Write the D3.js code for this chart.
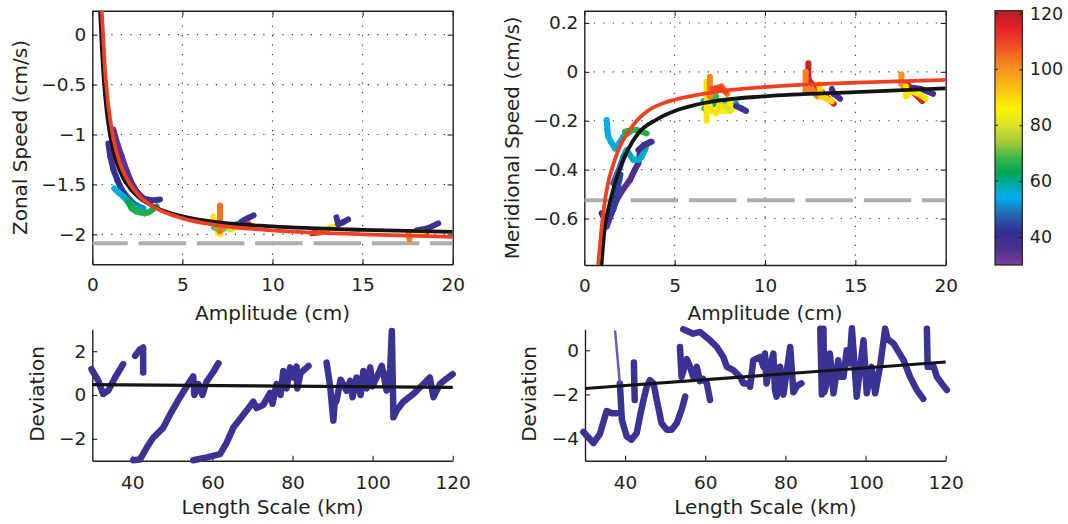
<!DOCTYPE html>
<html>
<head>
<meta charset="utf-8">
<script src="https://cdn.jsdelivr.net/npm/d3@7"></script>
<style>
body { margin: 0; background: #fff; }
svg text { font-family: "DejaVu Sans", sans-serif; fill: #231f20; }
</style>
</head>
<body>
<div class="container"></div>
<script>
// ---- data ----
const ampTicks = [0, 5, 10, 15, 20]
const zonalTicks = [0, -0.5, -1, -1.5, -2]
const meridTicks = [0.2, 0, -0.2, -0.4, -0.6]
const lenTicks = [40, 60, 80, 100, 120]
const devTicksL = [2, 0, -2]
const devTicksR = [0, -2, -4]
const cbarTicks = [40, 60, 80, 100, 120]

const zonalDashed = -2.09
const meridDashed = -0.525

// fitted curves [amplitude, speed]
const zonalBlack = [[0.43,0.24],[0.48,0.06],[0.55,-0.2],[0.65,-0.48],[0.8,-0.77],[1.0,-1.02],[1.3,-1.25],[1.72,-1.44],[2.2,-1.56],[2.65,-1.64],[3.5,-1.73],[5,-1.82],[7,-1.88],[10,-1.92],[15,-1.955],[20,-1.975]]
const zonalRed = [[0.52,0.24],[0.6,0.0],[0.7,-0.34],[0.8,-0.55],[1.0,-0.86],[1.17,-1.04],[1.5,-1.27],[1.87,-1.43],[2.3,-1.55],[2.74,-1.64],[3.5,-1.735],[5,-1.84],[7,-1.91],[10,-1.96],[15,-2.0],[20,-2.025]]
const meridBlack = [[0.95,-0.79],[1.1,-0.66],[1.45,-0.525],[1.95,-0.4],[2.4,-0.32],[3.0,-0.25],[4.0,-0.195],[5,-0.16],[6,-0.138],[7.5,-0.117],[10,-0.1],[15,-0.083],[20,-0.068]]
const meridRed = [[0.77,-0.79],[0.9,-0.68],[1.1,-0.55],[1.3,-0.46],[1.6,-0.38],[2.0,-0.3],[2.4,-0.25],[2.9,-0.2],[3.5,-0.16],[4.5,-0.125],[5.5,-0.105],[7,-0.085],[10,-0.062],[15,-0.044],[20,-0.033]]

// eddy tracks [amplitude, speed, length scale]
const zonalTracks = [
  [[1.2,-1.0,33],[1.5,-1.2,33],[1.8,-1.4,34],[2.2,-1.55,35]],
  [[1.17,-0.95,34],[1.4,-1.1,34],[1.63,-1.22,34],[1.9,-1.36,34],[2.19,-1.49,35],[2.5,-1.58,35],[2.83,-1.64,36],[3.3,-1.66,37],[3.76,-1.65,38]],
  [[0.89,-1.09,38],[1.0,-1.22,39],[1.17,-1.35,40],[1.4,-1.46,41],[1.63,-1.55,43],[1.95,-1.63,45],[2.28,-1.69,47],[2.55,-1.72,49],[2.83,-1.74,50]],
  [[1.22,-1.54,54],[1.45,-1.58,55],[1.72,-1.62,56],[2.0,-1.67,57],[2.28,-1.72,55],[2.55,-1.74,53],[2.83,-1.74,51]],
  [[1.9,-1.66,59],[2.2,-1.71,60],[2.5,-1.74,60]],
  [[2.0,-1.68,62],[2.19,-1.74,64],[2.42,-1.77,66],[2.65,-1.78,66],[2.9,-1.79,66],[3.1,-1.78,66],[3.35,-1.75,65],[3.57,-1.72,64]],
  [[6.72,-1.82,88],[6.8,-1.9,88],[7.0,-1.98,88],[7.1,-2.0,88]],
  [[6.75,-1.93,70],[7.0,-1.95,70],[7.2,-1.95,72],[7.5,-1.93,70]],
  [[7.09,-1.71,104],[7.09,-1.97,104]],
  [[7.5,-1.92,60],[7.8,-1.91,60],[8.0,-1.9,60],[8.3,-1.88,60]],
  [[7.6,-1.95,80],[7.9,-1.94,80]],
  [[8.55,-1.91,115],[8.7,-1.9,115]],
  [[8.3,-1.87,40],[8.6,-1.84,40],[8.95,-1.81,39]],
  [[12.2,-1.99,115],[12.7,-1.98,115]],
  [[12.6,-1.98,100],[13.1,-1.95,100]],
  [[13.2,-1.93,88],[13.6,-1.92,88]],
  [[13.55,-1.83,38],[13.65,-1.9,38],[13.9,-1.88,38],[14.2,-1.85,38]],
  [[18.3,-2.0,118],[18.5,-1.99,118]],
  [[18.0,-1.96,38],[18.6,-1.94,38],[19.2,-1.89,38]],
  [[17.7,-1.99,88],[18.4,-1.98,88]],
  [[17.55,-2.0,102],[17.6,-2.05,102]]
]

const meridTracks = [
  [[1.24,-0.633,34],[1.5,-0.58,34],[1.79,-0.524,34],[2.15,-0.48,35],[2.53,-0.442,35],[2.8,-0.4,36],[2.99,-0.374,36],[3.08,-0.33,37],[3.3,-0.3,37],[3.64,-0.286,38]],
  [[0.96,-0.578,40],[1.1,-0.6,40],[1.24,-0.605,41],[1.45,-0.58,42],[1.6,-0.564,43],[1.79,-0.496,44],[2.0,-0.42,45]],
  [[1.6,-0.456,48],[1.8,-0.42,48],[1.98,-0.388,49],[2.15,-0.35,50],[2.35,-0.32,51]],
  [[2.35,-0.32,58],[2.71,-0.36,57],[3.0,-0.36,56],[3.18,-0.347,56],[3.35,-0.32,57],[3.45,-0.299,58]],
  [[2.99,-0.32,38],[3.3,-0.3,38],[3.73,-0.286,38]],
  [[1.24,-0.197,55],[1.28,-0.24,55],[1.33,-0.265,55],[1.5,-0.29,55],[1.7,-0.313,55],[1.95,-0.29,56],[2.16,-0.265,57],[2.53,-0.245,58]],
  [[2.25,-0.245,66],[2.6,-0.238,67],[2.9,-0.238,67],[3.2,-0.245,66],[3.45,-0.252,66]],
  [[6.6,-0.12,60],[7.0,-0.14,60],[7.4,-0.12,60],[7.8,-0.13,60],[8.2,-0.14,60],[8.4,-0.13,60]],
  [[6.65,-0.15,68],[6.9,-0.12,68],[7.3,-0.1,68]],
  [[6.77,-0.04,88],[6.77,-0.2,88]],
  [[6.9,-0.13,88],[7.05,-0.16,88],[7.3,-0.17,88],[7.5,-0.13,88],[7.65,-0.16,88],[7.9,-0.16,86],[8.05,-0.13,86],[8.2,-0.15,86]],
  [[7.8,-0.14,80],[8.1,-0.16,80]],
  [[6.95,-0.02,102],[6.95,-0.10,102],[7.2,-0.07,102],[7.6,-0.06,104],[7.9,-0.09,104]],
  [[7.1,-0.07,110],[7.5,-0.065,110],[7.8,-0.08,110]],
  [[8.4,-0.14,38],[8.7,-0.15,38],[8.95,-0.16,38]],
  [[12.4,0.035,118],[12.4,-0.03,118],[12.6,-0.05,116],[13.0,-0.07,116],[13.5,-0.11,116],[13.8,-0.13,116]],
  [[12.25,0.0,102],[12.25,-0.08,102],[12.6,-0.07,102],[12.9,-0.1,102],[13.1,-0.08,102]],
  [[13.7,-0.07,38],[13.8,-0.09,38],[14.0,-0.1,38],[14.15,-0.11,38]],
  [[13.0,-0.05,90],[13.1,-0.1,90],[13.4,-0.11,90],[13.7,-0.12,90]],
  [[17.55,-0.01,100],[17.55,-0.05,100],[17.7,-0.06,100]],
  [[17.9,-0.05,116],[18.3,-0.09,116],[18.7,-0.12,116]],
  [[18.2,-0.065,38],[18.6,-0.07,38],[19.0,-0.08,38],[19.3,-0.09,38]],
  [[17.8,-0.06,88],[17.8,-0.1,88],[18.1,-0.08,88],[18.5,-0.09,88],[18.9,-0.11,88]]
]

// deviation vs length scale [km, deviation]
const zonalDev = [
  [[29.8,1.18],[31.5,0.65],[32.7,0.05],[34.0,0.2],[35.7,0.8],[37.7,1.41]],
  [[40.7,1.79],[41.9,2.09],[42.7,2.17],[42.7,1.03]],
  [[40.2,-2.98],[41.9,-2.95],[43.6,-2.4],[45.2,-1.95],[47.7,-1.5],[49.4,-0.9],[51.9,-0.1],[53.6,0.4],[55.2,0.85],[55.5,0.0],[56.5,0.5],[57.5,0.0],[58.5,0.6],[60.2,1.05],[61.5,1.45]],
  [[55.2,-2.98],[58.6,-2.85],[61.9,-2.7],[63.5,-2.2],[65.2,-1.5],[68.6,-0.7],[70.2,-0.3],[71.0,-0.6],[72.7,-0.45],[74.4,0.1],[75,-0.4],[76,0.5],[77,0.0],[77.7,1.1],[78.5,0.3],[79.4,1.26],[80.2,0.8],[81.0,1.3],[81.2,0.3],[82,1.0],[84.0,1.33]],
  [[88.5,1.48],[89.4,0.4],[90.2,-1.17],[90.5,-0.4],[91.0,-0.26],[92,0.7],[93.5,0.2],[94.4,0.65],[95,-0.1],[96,0.8],[97,0.0],[97.7,1.1],[98.5,0.3],[99.4,1.26],[100,0.4],[101,0.8],[102.3,1.33],[103.5,0.2],[104.4,1.2],[104.8,2.92],[105.2,-1.02],[106,-0.71],[107.7,-0.3],[110.2,0.05],[112.7,0.5],[114.3,0.8],[115.2,-0.1],[116.8,0.5],[118.5,0.75],[120,0.95]]
]
const meridDev = [
  [[29.6,-3.7],[32.1,-4.2],[33.7,-3.8],[35.4,-2.75],[36.7,-2.85],[37.9,-2.85]],
  [[38.7,-1.5],[39.2,-3.15],[40.4,-3.9],[41.6,-4.05],[42.9,-3.75],[43.7,-3.0],[44.6,-2.25],[45.4,-1.65],[46.2,-1.35],[47.1,-1.5],[47.9,-2.25],[49.1,-3.3],[50.4,-3.6],[51.6,-3.6],[52.9,-3.3],[54.1,-2.7],[55.0,-2.1]],
  [[42.2,-0.55],[42.4,-2.25]],
  [[53.7,0.15],[54.1,-1.2],[55.4,-0.4],[56.2,-0.75],[57.0,-1.2],[57.9,-0.75],[58.7,-1.4],[59.5,-1.3],[60.4,-1.5],[61.2,-2.25]],
  [[54.5,0.95],[57.0,0.75],[58.7,0.83],[61.2,0.45],[62.9,0.15],[64.5,-0.3],[65.4,-0.75],[67.0,-0.9],[68.7,-1.2],[69.5,-1.5],[70.3,-1.5]],
  [[71.2,-1.65],[72.0,-0.45],[73.7,-0.3],[74.5,-0.75],[74.9,-0.15],[75.3,-1.5],[76.1,-0.75],[77.0,-0.15],[77.4,-1.8],[77.8,-2.1],[78.7,-0.75],[79.1,-1.5],[79.5,-2.0],[81.2,0.15],[82.0,-1.9],[83,-1.6],[84,-1.5]],
  [[88.7,0.98],[89.1,-2.0],[89.5,0.98],[89.7,-1.9],[90.3,-1.5],[91.1,-0.15],[92.0,-1.95],[93.2,-0.45],[93.6,-1.2],[94.5,-1.2],[95.3,0.0],[96.0,-0.6],[96.6,1.0],[97.8,-2.1],[98.5,-1.0],[99.5,0.45],[100.3,-1.95],[101.5,-0.75],[102.4,-1.95],[103.6,-0.75],[104.9,0.98],[105.5,0.5],[107.0,0.3],[109.5,-0.45],[111.1,-1.2],[112.8,-1.8],[114.4,-2.2]],
  [[115.3,0.98],[115.5,-0.75],[116.1,-0.75],[117,-0.75],[117.8,-1.2],[119,-1.5],[120.3,-1.8]]
]
const meridDevThin = [[37.5,0.9],[38.7,-1.5]]
const zonalDevFit = [[30,0.47],[120,0.35]]
const meridDevFit = [[30,-1.73],[120,-0.53]]

// colour map of the length scale (km)
const cmapValues = [30,36,42,48,54,59,63,68,74,80,86,93,100,107,114,121]
const cmapColors = ['#7b3f98','#4b2f8f','#2e3192','#2665ad','#00aeef','#00aaa5','#00a651','#39b54a','#a5c93a','#dde22a','#fff200','#fdc010','#f7941d','#f15a24','#e8242a','#b21f24']

// ---- drawing ----
const svg = d3.select('.container')
  .append('svg')
  .attr('width', 1068)
  .attr('height', 524)

svg.append('rect').attr('width', 1068).attr('height', 524).attr('fill', '#fff')

const color = d3.scaleLinear().domain(cmapValues).range(cmapColors)
const fmt = d3.format('~g')
const ink = '#231f20'

function drawAxes(g, x, y, xt, yt, opts) {
  const [xa, xb] = x.range()
  const [yb, ya] = y.range()

  if (opts.grid) {
    g.append('g').selectAll('line')
      .data(xt.filter(d => d > x.domain()[0] && d < x.domain()[1]))
      .enter().append('line')
      .attr('x1', d => x(d)).attr('x2', d => x(d))
      .attr('y1', yb).attr('y2', ya)
      .attr('stroke', '#333').attr('stroke-width', 1.1)
      .attr('stroke-dasharray', '1.2,8.3')
    g.append('g').selectAll('line')
      .data(yt)
      .enter().append('line')
      .attr('x1', xa).attr('x2', xb)
      .attr('y1', d => y(d)).attr('y2', d => y(d))
      .attr('stroke', '#333').attr('stroke-width', 1.1)
      .attr('stroke-dasharray', '1.2,8.3')
  }

  const xAxis = g.append('g')
    .attr('transform', `translate(0,${yb})`)
    .call(d3.axisBottom(x).tickValues(xt).tickFormat(fmt).tickSizeInner(-5).tickSizeOuter(0).tickPadding(opts.xpad))
  const yAxis = g.append('g')
    .attr('transform', `translate(${xa},0)`)
    .call(d3.axisLeft(y).tickValues(yt).tickFormat(fmt).tickSizeInner(-5).tickSizeOuter(0).tickPadding(6))

  ;[xAxis, yAxis].forEach(a => {
    a.attr('font-size', 18.5).attr('font-family', null)
    a.select('.domain').attr('stroke', ink).attr('stroke-width', 1.4)
    a.selectAll('.tick line').attr('stroke', ink).attr('stroke-width', 1.1)
    a.selectAll('text').attr('fill', ink)
  })

  if (opts.box) {
    const top = g.append('g').attr('transform', `translate(0,${ya})`)
      .call(d3.axisTop(x).tickValues(xt).tickFormat('').tickSizeInner(-5).tickSizeOuter(0))
    const right = g.append('g').attr('transform', `translate(${xb},0)`)
      .call(d3.axisRight(y).tickValues(yt).tickFormat('').tickSizeInner(-5).tickSizeOuter(0))
    ;[top, right].forEach(a => {
      a.select('.domain').attr('stroke', ink).attr('stroke-width', 1.4)
      a.selectAll('.tick line').attr('stroke', ink).attr('stroke-width', 1.1)
    })
  }
}

function drawTracks(g, x, y, tracks, width) {
  tracks.forEach(track => {
    const segs = d3.pairs(track)
    g.append('g').selectAll('line')
      .data(segs)
      .enter().append('line')
      .attr('x1', d => x(d[0][0])).attr('y1', d => y(d[0][1]))
      .attr('x2', d => x(d[1][0])).attr('y2', d => y(d[1][1]))
      .attr('stroke', d => color((d[0][2] + d[1][2]) / 2))
      .attr('stroke-width', width)
      .attr('stroke-linecap', 'round')
  })
}

function yLabel(text, px, py) {
  svg.append('text')
    .attr('transform', `translate(${px},${py}) rotate(-90)`)
    .attr('text-anchor', 'middle')
    .attr('font-size', 20)
    .text(text)
}

function xLabel(text, px, py) {
  svg.append('text')
    .attr('x', px).attr('y', py)
    .attr('text-anchor', 'middle')
    .attr('font-size', 20)
    .text(text)
}

// top panels
const topPanels = [
  { id: 'zonal', xr: [92.3, 452.7], yr: [264.3, 10.7], yd: [-2.3, 0.24], yt: zonalTicks,
    dash: zonalDashed, tracks: zonalTracks, black: zonalBlack, red: zonalRed,
    label: 'Zonal Speed (cm/s)', lx: 27.3 },
  { id: 'merid', xr: [584.3, 945.7], yr: [265, 10.7], yd: [-0.79, 0.25], yt: meridTicks,
    dash: meridDashed, tracks: meridTracks, black: meridBlack, red: meridRed,
    label: 'Meridional Speed (cm/s)', lx: 518.6 }
]

topPanels.forEach(p => {
  const x = d3.scaleLinear().domain([0, 20]).range(p.xr)
  const y = d3.scaleLinear().domain(p.yd).range(p.yr)
  const g = svg.append('g')

  svg.append('clipPath').attr('id', 'clip-' + p.id)
    .append('rect')
    .attr('x', p.xr[0]).attr('y', p.yr[1])
    .attr('width', p.xr[1] - p.xr[0]).attr('height', p.yr[0] - p.yr[1])

  drawAxes(g, x, y, ampTicks, p.yt, { grid: true, box: true, xpad: 13.5 })

  const plot = g.append('g').attr('clip-path', `url(#clip-${p.id})`)

  plot.append('line')
    .attr('x1', p.xr[0]).attr('x2', p.xr[1])
    .attr('y1', y(p.dash)).attr('y2', y(p.dash))
    .attr('stroke', '#adadad').attr('stroke-width', 4)
    .attr('stroke-dasharray', '47.5,10.8').attr('stroke-dashoffset', 12)

  drawTracks(plot, x, y, p.tracks, 6)

  const line = d3.line().x(d => x(d[0])).y(d => y(d[1])).curve(d3.curveMonotoneX)
  plot.append('path').datum(p.black)
    .attr('d', line).attr('fill', 'none')
    .attr('stroke', '#141414').attr('stroke-width', 3.8)
  plot.append('path').datum(p.red)
    .attr('d', line).attr('fill', 'none')
    .attr('stroke', '#ee4124').attr('stroke-width', 3.8)

  yLabel(p.label, p.lx, (p.yr[0] + p.yr[1]) / 2)
  xLabel('Amplitude (cm)', (p.xr[0] + p.xr[1]) / 2, 319.6)
})

// bottom panels
const bottomPanels = [
  { xr: [92.3, 452.7], yd: [-3, 3], yt: devTicksL, tracks: zonalDev, fit: zonalDevFit, lx: 44, thin: null },
  { xr: [585, 945.7], yd: [-5, 0.95], yt: devTicksR, tracks: meridDev, fit: meridDevFit, lx: 536, thin: meridDevThin }
]

bottomPanels.forEach(p => {
  const x = d3.scaleLinear().domain([30, 120]).range(p.xr)
  const y = d3.scaleLinear().domain(p.yd).range([460.7, 329.3])
  const g = svg.append('g')

  drawAxes(g, x, y, lenTicks, p.yt, { grid: false, box: false, xpad: 15.5 })

  const line = d3.line().x(d => x(d[0])).y(d => y(d[1]))
  p.tracks.forEach(t => {
    g.append('path').datum(t)
      .attr('d', line).attr('fill', 'none')
      .attr('stroke', '#3a3393').attr('stroke-width', 6.5)
      .attr('stroke-linejoin', 'round').attr('stroke-linecap', 'round')
  })
  if (p.thin) {
    g.append('path').datum(p.thin)
      .attr('d', line).attr('fill', 'none')
      .attr('stroke', '#6560b0').attr('stroke-width', 2.5)
  }
  g.append('path').datum(p.fit)
    .attr('d', line).attr('fill', 'none')
    .attr('stroke', '#141414').attr('stroke-width', 3.2)

  yLabel('Deviation', p.lx, 394)
  xLabel('Length Scale (km)', (p.xr[0] + p.xr[1]) / 2, 514.3)
})

// colour bar
const cb = { x: 995, w: 27.3, top: 10.7, bottom: 265 }
const cy = d3.scaleLinear().domain([30, 121]).range([cb.bottom, cb.top])

const grad = svg.append('defs').append('linearGradient')
  .attr('id', 'cbar')
  .attr('x1', 0).attr('y1', 1).attr('x2', 0).attr('y2', 0)
grad.selectAll('stop')
  .data(cmapValues)
  .enter().append('stop')
  .attr('offset', d => (d - 30) / (121 - 30))
  .attr('stop-color', (d, i) => cmapColors[i])

svg.append('rect')
  .attr('x', cb.x).attr('y', cb.top)
  .attr('width', cb.w).attr('height', cb.bottom - cb.top)
  .attr('fill', 'url(#cbar)')
  .attr('stroke', ink).attr('stroke-width', 1.2)

const cbAxis = svg.append('g')
  .attr('transform', `translate(${cb.x + cb.w},0)`)
  .call(d3.axisRight(cy).tickValues(cbarTicks).tickFormat(fmt).tickSizeInner(-3).tickSizeOuter(0).tickPadding(7.5))
cbAxis.attr('font-size', 17.5).attr('font-family', null)
cbAxis.select('.domain').remove()
cbAxis.selectAll('.tick line').attr('stroke', ink)
cbAxis.selectAll('text').attr('fill', ink)

svg.append('g').selectAll('line')
  .data(cbarTicks)
  .enter().append('line')
  .attr('x1', cb.x).attr('x2', cb.x + 3)
  .attr('y1', d => cy(d)).attr('y2', d => cy(d))
  .attr('stroke', ink)
</script>
</body>
</html>
